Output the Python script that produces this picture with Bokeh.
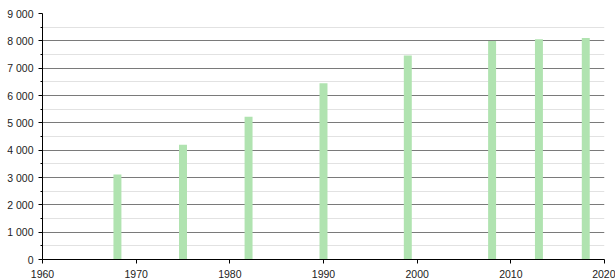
from bokeh.plotting import figure
from bokeh.models import Range1d, FixedTicker
from bokeh.embed import file_html
from bokeh.resources import INLINE

years = [1968, 1975, 1982, 1990, 1999, 2008, 2013, 2018]
population = [3112, 4198, 5220, 6445, 7460, 7990, 8060, 8100]
y_ticks = [0, 1000, 2000, 3000, 4000, 5000, 6000, 7000, 8000, 9000]
y_minor = [500, 1500, 2500, 3500, 4500, 5500, 6500, 7500, 8500]
x_ticks = [1960, 1970, 1980, 1990, 2000, 2010, 2020]

p = figure(width=615, height=280, output_backend="svg", toolbar_location=None,
           x_range=Range1d(1960, 2020), y_range=Range1d(0, 9000),
           min_border_left=42, min_border_right=11, min_border_top=13, min_border_bottom=20)
p.outline_line_color = None
p.background_fill_color = "white"
p.border_fill_color = "white"

p.vbar(x=years, top=population, width=0.85, bottom=0,
       fill_color="#b0e3b0", line_color=None)

p.yaxis.ticker = FixedTicker(ticks=y_ticks, minor_ticks=y_minor)
p.yaxis.major_label_overrides = {t: f"{t:,}".replace(",", " ") for t in y_ticks}
p.xaxis.ticker = FixedTicker(ticks=x_ticks, minor_ticks=[])

for ax in (p.xaxis[0], p.yaxis[0]):
    ax.axis_line_color = "black"
    ax.major_tick_line_color = "black"
    ax.major_tick_out = 4
    ax.major_tick_in = 0
    ax.major_label_text_font = "Liberation Sans"
    ax.major_label_text_font_size = "10.5px"
    ax.major_label_text_color = "#222222"
p.yaxis.major_label_standoff = 5
p.xaxis.major_label_standoff = 6
p.yaxis.minor_tick_line_color = "black"
p.yaxis.minor_tick_out = 2
p.yaxis.minor_tick_in = 0
p.xaxis.minor_tick_line_color = None

p.xgrid.grid_line_color = None
p.ygrid.grid_line_color = "#7a7a7a"
p.ygrid.grid_line_width = 1
p.ygrid.minor_grid_line_color = "#e2e2e2"
p.ygrid.minor_grid_line_width = 1
p.ygrid.level = "underlay"

open("out.html", "w").write(file_html(p, INLINE))
